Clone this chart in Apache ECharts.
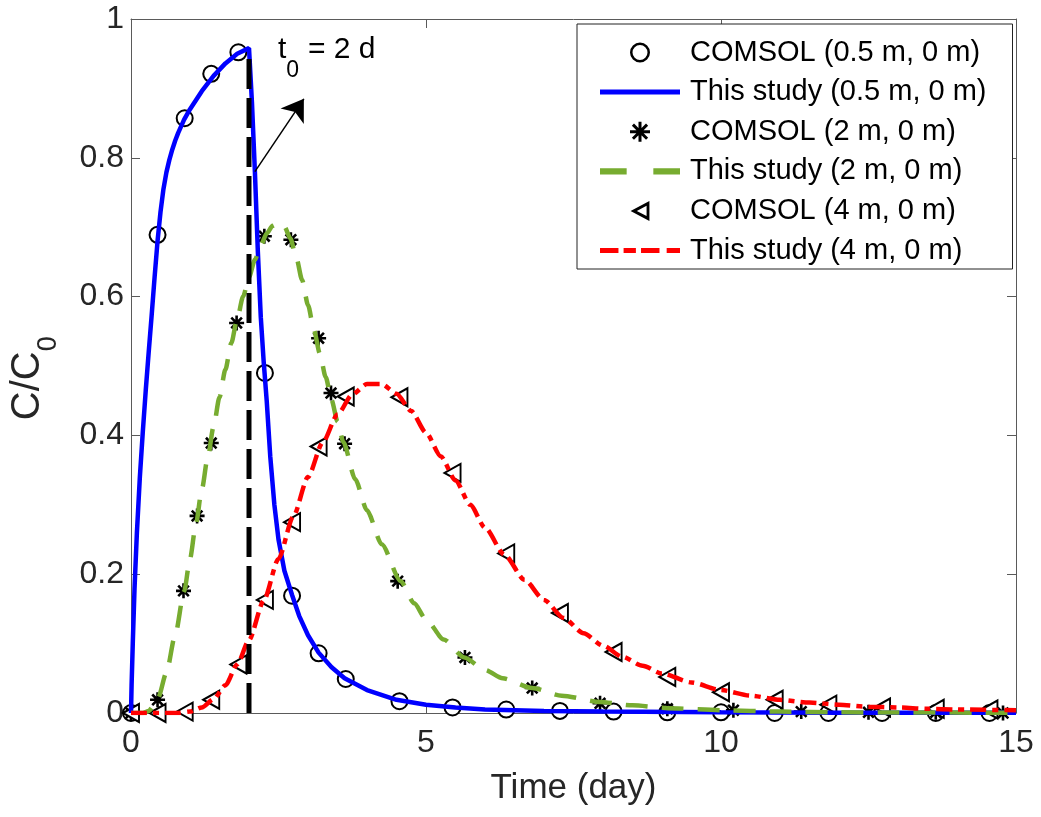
<!DOCTYPE html>
<html>
<head>
<meta charset="utf-8">
<script src="https://cdn.jsdelivr.net/npm/echarts@6/dist/echarts.min.js"></script>
<style>
html,body{margin:0;padding:0;background:#fff;}
#chart{width:1041px;height:817px;}
</style>
</head>
<body>
<div id="chart"></div>
<script>
// ---------- data ----------
const legendNames = [
  'COMSOL (0.5 m, 0 m)',
  'This study (0.5 m, 0 m)',
  'COMSOL (2 m, 0 m)',
  'This study (2 m, 0 m)',
  'COMSOL (4 m, 0 m)',
  'This study (4 m, 0 m)'
];

// COMSOL markers, (0.5 m, 0 m)
const circleT = [0, 0.45, 0.91, 1.36, 1.82, 2.27, 2.73, 3.18, 3.64, 4.55, 5.45, 6.36, 7.27, 8.18, 9.09, 10.0, 10.91, 11.82, 12.73, 13.64, 14.55];
const circleV = [0, 0.689, 0.857, 0.921, 0.952, 0.49, 0.169, 0.086, 0.049, 0.017, 0.008, 0.005, 0.003, 0.002, 0.001, 0.001, 0, 0, 0, 0, 0];

// COMSOL markers, (2 m, 0 m)
const starT = [0, 0.45, 0.89, 1.12, 1.36, 1.79, 2.26, 2.71, 3.18, 3.39, 3.62, 4.52, 5.66, 6.8, 7.95, 9.09, 10.21, 11.36, 12.5, 13.64, 14.78];
const starV = [0, 0.019, 0.176, 0.284, 0.389, 0.562, 0.687, 0.682, 0.54, 0.461, 0.388, 0.19, 0.08, 0.036, 0.014, 0.006, 0.004, 0.002, 0.001, 0.001, 0];

// COMSOL markers, (4 m, 0 m)
const triT = [0, 0.45, 0.91, 1.36, 1.82, 2.27, 2.73, 3.18, 3.64, 4.55, 5.45, 6.36, 7.27, 8.18, 9.09, 10.0, 10.91, 11.82, 12.73, 13.64, 14.55];
const triV = [0, 0, 0.002, 0.019, 0.07, 0.163, 0.275, 0.384, 0.456, 0.455, 0.346, 0.23, 0.144, 0.088, 0.052, 0.03, 0.019, 0.012, 0.008, 0.006, 0.005];

// This study, (0.5 m, 0 m)
const blueT = [0, 0.01, 0.03, 0.06, 0.1, 0.15, 0.2, 0.25, 0.3, 0.35, 0.4, 0.45, 0.5, 0.55, 0.6, 0.65, 0.7, 0.75, 0.8, 0.9, 1.0, 1.2, 1.4, 1.6, 1.8, 2.0,
               2.05, 2.1, 2.15, 2.2, 2.25, 2.3, 2.36, 2.43, 2.5, 2.6, 2.73, 2.85, 3.0, 3.18, 3.4, 3.62, 4.0, 4.5, 5.0, 5.5, 6.0, 7.0, 8.0, 10.0, 12.0, 15.0];
const blueV = [0, 0.04, 0.1, 0.18, 0.26, 0.34, 0.405, 0.465, 0.52, 0.573, 0.628, 0.68, 0.722, 0.755, 0.779, 0.797, 0.812, 0.825, 0.836, 0.855, 0.87, 0.896, 0.918, 0.936, 0.95, 0.958,
               0.88, 0.78, 0.665, 0.57, 0.505, 0.45, 0.37, 0.3, 0.25, 0.205, 0.17, 0.14, 0.112, 0.087, 0.066, 0.05, 0.033, 0.019, 0.012, 0.008, 0.005, 0.003, 0.002, 0.001, 0.0005, 0.0003];

// This study, (2 m, 0 m)
const greenT = [0, 0.2, 0.3, 0.4, 0.46, 0.6, 0.75, 0.9, 1.0, 1.1, 1.2, 1.3, 1.4, 1.5, 1.6, 1.7, 1.8, 1.9, 2.0, 2.1, 2.2, 2.3, 2.4, 2.5, 2.6, 2.7, 2.8, 2.9, 3.0,
                3.1, 3.2, 3.3, 3.4, 3.5, 3.6, 3.8, 4.0, 4.25, 4.57, 4.8, 5.0, 5.3, 5.65, 6.0, 6.3, 6.8, 7.3, 7.95, 8.5, 9.1, 10.0, 11.0, 12.0, 13.0, 15.0];
const greenV = [0, 0, 0.003, 0.012, 0.022, 0.058, 0.113, 0.175, 0.222, 0.272, 0.322, 0.368, 0.413, 0.455, 0.495, 0.533, 0.568, 0.6, 0.628, 0.653, 0.674, 0.691, 0.702, 0.706, 0.701, 0.684, 0.657, 0.624, 0.588,
                0.552, 0.518, 0.484, 0.451, 0.42, 0.39, 0.337, 0.292, 0.243, 0.19, 0.158, 0.135, 0.106, 0.08, 0.062, 0.05, 0.036, 0.025, 0.016, 0.011, 0.007, 0.004, 0.002, 0.001, 0.0007, 0.0003];

// This study, (4 m, 0 m)
const redT = [0, 0.8, 1.0, 1.2, 1.4, 1.6, 1.8, 2.0, 2.25, 2.5, 2.75, 3.0, 3.25, 3.5, 3.75, 4.0, 4.25, 4.5, 4.75, 5.0, 5.25, 5.5, 5.75, 6.0, 6.33, 6.67, 7.0, 7.33, 7.67, 8.0,
              8.33, 8.67, 9.0, 9.5, 10.0, 10.5, 11.0, 11.5, 12.0, 12.5, 13.0, 13.5, 14.0, 15.0];
const redV = [0, 0, 0.002, 0.008, 0.02, 0.04, 0.07, 0.105, 0.162, 0.222, 0.283, 0.34, 0.39, 0.43, 0.459, 0.474, 0.474, 0.46, 0.435, 0.404, 0.37, 0.335, 0.3, 0.267, 0.228, 0.192, 0.163, 0.137, 0.115, 0.097,
              0.081, 0.068, 0.057, 0.044, 0.033, 0.025, 0.019, 0.015, 0.012, 0.009, 0.008, 0.006, 0.005, 0.004];

// injection end, t0 = 2 d
const t0 = 2;
const t0Top = 0.955;
const arrowFrom = [2.1, 0.78];
const arrowTo = [2.93, 0.885];
const annotAt = [2.49, 0.978];

// axes
const xMin = 0, xMax = 15, xStep = 5;
const yMin = 0, yMax = 1, yStep = 0.2;

// ---------- build ----------
const zip = (a, b) => a.map((v, i) => [v, b[i]]);
const FONT = '"Liberation Sans", Arial, Helvetica, sans-serif';
const AX = '#5a5a5a';
const TXT = '#262626';
const asterisk = 'path://M0,-10L0,10M-10,0L10,0M-7.07,-7.07L7.07,7.07M-7.07,7.07L7.07,-7.07';
// outlined shapes (outer contour + reversed inner contour) for legend icons
const triOutline = 'path://M16,0L0,8.5L16,17ZM13.6,4.1L13.6,12.9L5.3,8.5Z';
const ringOutline = 'path://M8,0A8,8,0,1,1,8,16A8,8,0,1,1,8,0ZM8,2A6,6,0,1,0,8,14A6,6,0,1,0,8,2Z';

function axisBase(extra) {
  return Object.assign({
    type: 'value',
    axisLine: { show: true, onZero: false, lineStyle: { color: AX, width: 1 } },
    axisTick: { show: true, inside: true, length: 9, lineStyle: { color: AX, width: 1 } },
    splitLine: { show: false },
    axisLabel: { fontSize: 32, color: TXT, fontFamily: FONT }
  }, extra);
}

const legendIcons = [
  { name: legendNames[0], icon: ringOutline, itemStyle: { color: '#000', borderWidth: 0, opacity: 1 } },
  { name: legendNames[1], icon: 'path://M0,0H80V5H0Z', itemStyle: { color: '#0000ff', borderWidth: 0, opacity: 1 } },
  { name: legendNames[2], icon: asterisk, itemStyle: { color: '#000', borderColor: '#000', borderWidth: 3, opacity: 1 } },
  { name: legendNames[3], icon: 'path://M0,0H21V5H0ZM42,0H63V5H42Z', itemStyle: { color: '#77ac30', borderWidth: 0, opacity: 1 } },
  { name: legendNames[4], icon: triOutline, itemStyle: { color: '#000', borderWidth: 0, opacity: 1 } },
  { name: legendNames[5], icon: 'path://M0,0H18V5H0ZM23,0H35V5H23ZM40,0H58V5H40ZM65,0H78V5H65Z', itemStyle: { color: '#ff0000', borderWidth: 0, opacity: 1 } }
];

const chart = echarts.init(document.getElementById('chart'), null, { renderer: 'canvas' });

const option = {
  animation: false,
  backgroundColor: '#ffffff',
  grid: { left: 131, right: 25, top: 19, bottom: 104, containLabel: false, outerBoundsMode: 'none' },
  xAxis: [
    axisBase({
      min: xMin, max: xMax, interval: xStep, position: 'bottom',
      axisLabel: { fontSize: 32, color: TXT, fontFamily: FONT, margin: 14 },
      name: 'Time (day)', nameLocation: 'middle', nameGap: 58,
      nameTextStyle: { fontSize: 35, color: TXT, fontFamily: FONT }
    }),
    axisBase({ min: xMin, max: xMax, interval: xStep, position: 'top', axisLabel: { show: false } })
  ],
  yAxis: [
    axisBase({
      min: yMin, max: yMax, interval: yStep, position: 'left',
      axisLabel: { fontSize: 32, color: TXT, fontFamily: FONT, margin: 7 },
      name: '{m|C/C}{s|0}{sp| }', nameLocation: 'middle', nameGap: 69,
      nameTextStyle: {
        fontSize: 40, color: TXT, fontFamily: FONT, padding: [0, 24, 0, 0],
        rich: {
          m: { fontSize: 40, color: TXT, fontFamily: FONT, lineHeight: 40, verticalAlign: 'top' },
          s: { fontSize: 27, color: TXT, fontFamily: FONT, lineHeight: 27, verticalAlign: 'bottom' },
          sp: { fontSize: 2, lineHeight: 54, verticalAlign: 'top' }
        }
      }
    }),
    axisBase({ min: yMin, max: yMax, interval: yStep, position: 'right', axisLabel: { show: false } })
  ],
  legend: {
    show: true,
    orient: 'vertical',
    left: 577, top: 24,
    padding: [14, 26, 4, 23],
    itemWidth: 80, itemHeight: 20, itemGap: 10.6,
    backgroundColor: '#ffffff',
    borderColor: '#222', borderWidth: 1,
    symbolKeepAspect: true,
    textStyle: { fontSize: 29, lineHeight: 28, color: '#000', fontFamily: FONT, padding: [0, 0, 0, 5] },
    data: legendIcons
  },
  series: [
    {
      name: legendNames[0], type: 'scatter', data: zip(circleT, circleV),
      symbol: 'emptyCircle', symbolSize: 16,
      itemStyle: { color: '#000', borderColor: '#000', borderWidth: 2, opacity: 1 }
    },
    {
      name: legendNames[1], type: 'line', data: zip(blueT, blueV),
      symbol: 'none', showSymbol: false, smooth: false,
      lineStyle: { color: '#0000ff', width: 4.5 }, itemStyle: { color: '#0000ff' }
    },
    {
      name: legendNames[2], type: 'scatter', data: zip(starT, starV),
      symbol: asterisk, symbolSize: 15,
      itemStyle: { color: '#000', borderColor: '#000', borderWidth: 2.6, opacity: 1 }
    },
    {
      name: legendNames[3], type: 'line', data: zip(greenT, greenV),
      symbol: 'none', showSymbol: false, smooth: 0.25, smoothMonotone: 'x',
      lineStyle: { color: '#77ac30', width: 4.5, type: [22, 14] }, itemStyle: { color: '#77ac30' }
    },
    {
      name: legendNames[4], type: 'scatter', data: zip(triT, triV),
      symbol: 'emptyTriangle', symbolSize: [18, 16], symbolRotate: 90,
      itemStyle: { color: '#000', borderColor: '#000', borderWidth: 2, opacity: 1 }
    },
    {
      name: legendNames[5], type: 'line', data: zip(redT, redV),
      symbol: 'none', showSymbol: false, smooth: 0.25, smoothMonotone: 'x',
      lineStyle: { color: '#ff0000', width: 4.5, type: [16, 6, 6, 6] }, itemStyle: { color: '#ff0000' }
    },
    {
      name: 't0 line', type: 'line', data: [[t0, 0], [t0, t0Top]],
      symbol: 'none', showSymbol: false, silent: true,
      lineStyle: { color: '#000', width: 5, type: [30, 9] }, itemStyle: { color: '#000' },
      z: 3,
      markLine: {
        silent: true, animation: false,
        symbol: ['none', 'arrow'], symbolSize: 21,
        label: { show: false },
        lineStyle: { color: '#000', width: 1.5, type: 'solid' },
        data: [[{ coord: arrowFrom }, { coord: arrowTo }]]
      }
    }
  ]
};
chart.setOption(option);

const p = chart.convertToPixel({ gridIndex: 0 }, annotAt);
chart.setOption({
  graphic: [{
    type: 'text', x: p[0], y: p[1], z: 100,
    style: {
      text: '{a|t}{b|0}{sp| }{a| = 2 d}',
      verticalAlign: 'top', align: 'left',
      fill: '#000', fontFamily: FONT,
      rich: {
        a: { fontSize: 30, lineHeight: 30, fontFamily: FONT, fill: '#000', verticalAlign: 'top' },
        b: { fontSize: 23, lineHeight: 23, fontFamily: FONT, fill: '#000', verticalAlign: 'bottom' },
        sp: { fontSize: 2, lineHeight: 48, verticalAlign: 'top' }
      }
    }
  }]
});
</script>
</body>
</html>
